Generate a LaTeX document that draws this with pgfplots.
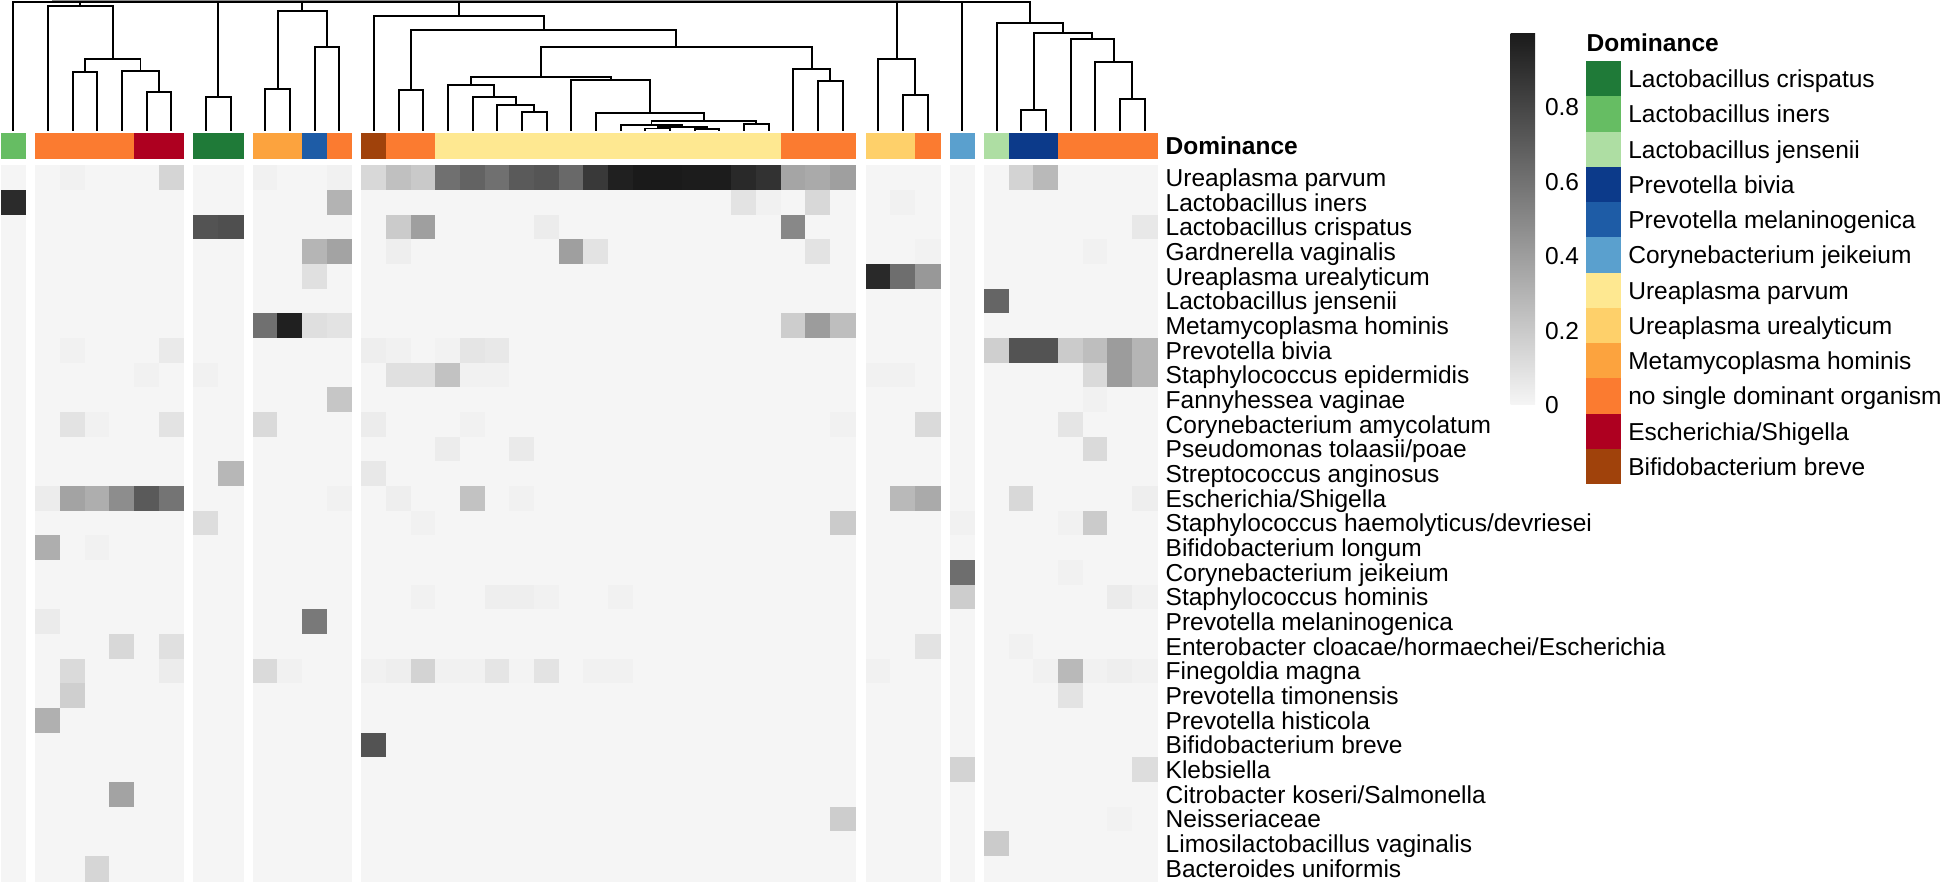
\documentclass[border=0pt]{standalone}
\usepackage{pgfplots}
\pgfplotsset{compat=1.18}
\usepackage{pgfplotstable}
\usepackage{fontspec}
\setmainfont{Liberation Sans}
\definecolor{cLC}{RGB}{31,122,56}
\definecolor{cLI}{RGB}{102,189,99}
\definecolor{cLJ}{RGB}{174,222,163}
\definecolor{cPB}{RGB}{12,58,138}
\definecolor{cPM}{RGB}{30,92,166}
\definecolor{cCJ}{RGB}{90,160,206}
\definecolor{cUP}{RGB}{254,232,145}
\definecolor{cUU}{RGB}{254,208,106}
\definecolor{cMH}{RGB}{252,163,62}
\definecolor{cNS}{RGB}{251,123,48}
\definecolor{cES}{RGB}{174,0,32}
\definecolor{cBB}{RGB}{160,66,11}
\definecolor{hm0}{RGB}{245,245,245}
\definecolor{hm1}{RGB}{27,27,27}
\newcommand{\lf}{\fontsize{9.8}{11.8}\selectfont}

% one line per sample: x centre (px), dominance class, abundance of the 29 taxa
\pgfplotstableread{
x dom v1 v2 v3 v4 v5 v6 v7 v8 v9 v10 v11 v12 v13 v14 v15 v16 v17 v18 v19 v20 v21 v22 v23 v24 v25 v26 v27 v28 v29
13.3 LI 0 0.91 0 0 0  0 0 0 0 0  0 0 0 0 0  0 0 0 0 0  0 0 0 0 0  0 0 0 0
48.0 NS 0 0 0 0 0  0 0 0 0 0  0 0 0 0.04 0  0.32 0 0 0.045 0  0 0 0.31 0 0  0 0 0 0
72.7 NS 0.02 0 0 0 0  0 0 0.02 0 0  0.08 0 0 0.37 0  0 0 0 0 0  0.12 0.17 0 0 0  0 0 0 0
97.4 NS 0 0 0 0 0  0 0 0 0 0  0.02 0 0 0.32 0  0.02 0 0 0 0  0 0 0 0 0  0 0 0 0.14
122.0 NS 0 0 0 0 0  0 0 0 0 0  0 0 0 0.47 0  0 0 0 0 0.13  0 0 0 0 0  0.37 0 0 0
146.7 ES 0 0 0 0 0  0 0 0 0.02 0  0 0 0 0.70 0  0 0 0 0 0  0 0 0 0 0  0 0 0 0
171.4 ES 0.145 0 0 0 0  0 0 0.05 0 0  0.08 0 0 0.58 0  0 0 0 0 0.095  0.04 0 0 0 0  0 0 0 0
206.0 LC 0 0 0.73 0 0  0 0 0 0.02 0  0 0 0 0 0.11  0 0 0 0 0  0 0 0 0 0  0 0 0 0
230.7 LC 0 0 0.75 0 0  0 0 0 0 0  0 0 0.28 0 0  0 0 0 0 0  0 0 0 0 0  0 0 0 0
265.3 MH 0.02 0 0 0 0  0 0.60 0 0 0  0.12 0 0 0 0  0 0 0 0 0  0.12 0 0 0 0  0 0 0 0
290.0 MH 0 0 0 0 0  0 0.96 0 0 0  0 0 0 0 0  0 0 0 0 0  0.02 0 0 0 0  0 0 0 0
314.7 PM 0 0 0 0.29 0.095  0 0.10 0 0 0  0 0 0 0 0  0 0 0 0.56 0  0 0 0 0 0  0 0 0 0
339.3 NS 0.02 0.30 0 0.37 0  0 0.08 0 0 0.21  0 0 0 0.02 0  0 0 0 0 0  0 0 0 0 0  0 0 0 0
374.0 BB 0.13 0 0 0 0  0 0 0.03 0 0  0.04 0 0.06 0 0  0 0 0 0 0  0.02 0 0 0.73 0  0 0 0 0
398.7 NS 0.24 0 0.19 0.03 0  0 0 0.02 0.095 0  0 0 0 0.03 0  0 0 0 0 0  0.03 0 0 0 0  0 0 0 0
423.4 NS 0.20 0 0.39 0 0  0 0 0 0.095 0  0 0 0 0 0.02  0 0 0.02 0 0  0.155 0 0 0 0  0 0 0 0
448.0 UP 0.60 0 0 0 0  0 0 0.015 0.23 0  0 0.04 0 0 0  0 0 0 0 0  0.02 0 0 0 0  0 0 0 0
472.7 UP 0.66 0 0 0 0  0 0 0.07 0.02 0  0.02 0 0 0.23 0  0 0 0 0 0  0.02 0 0 0 0  0 0 0 0
497.4 UP 0.60 0 0 0 0  0 0 0.06 0.02 0  0 0 0 0 0  0 0 0.03 0 0  0.07 0 0 0 0  0 0 0 0
522.0 UP 0.70 0 0 0 0  0 0 0 0 0  0 0.05 0 0.02 0  0 0 0.03 0 0  0.01 0 0 0 0  0 0 0 0
546.7 UP 0.72 0 0.04 0 0  0 0 0 0 0  0 0 0 0 0  0 0 0.02 0 0  0.08 0 0 0 0  0 0 0 0
571.4 UP 0.63 0 0 0.39 0  0 0 0 0 0  0 0 0 0 0  0 0 0 0 0  0 0 0 0 0  0 0 0 0
596.0 UP 0.85 0 0 0.08 0  0 0 0 0 0  0 0 0 0 0  0 0 0 0 0  0.02 0 0 0 0  0 0 0 0
620.7 UP 0.96 0 0 0 0  0 0 0 0 0  0 0 0 0 0  0 0 0.02 0 0  0.02 0 0 0 0  0 0 0 0
645.4 UP 0.99 0 0 0 0  0 0 0 0 0  0 0 0 0 0  0 0 0 0 0  0 0 0 0 0  0 0 0 0
670.0 UP 0.99 0 0 0 0  0 0 0 0 0  0 0 0 0 0  0 0 0 0 0  0 0 0 0 0  0 0 0 0
694.7 UP 0.98 0 0 0 0  0 0 0 0 0  0 0 0 0 0  0 0 0 0 0  0 0 0 0 0  0 0 0 0
719.4 UP 0.98 0 0 0 0  0 0 0 0 0  0 0 0 0 0  0 0 0 0 0  0 0 0 0 0  0 0 0 0
744.0 UP 0.92 0.08 0 0 0  0 0 0 0 0  0 0 0 0 0  0 0 0 0 0  0 0 0 0 0  0 0 0 0
768.7 UP 0.88 0.02 0 0 0  0 0 0 0 0  0 0 0 0 0  0 0 0 0 0  0 0 0 0 0  0 0 0 0
793.4 NS 0.36 0 0.49 0 0  0 0.18 0 0 0  0 0 0 0 0  0 0 0 0 0  0 0 0 0 0  0 0 0 0
818.0 NS 0.34 0.13 0 0.08 0  0 0.40 0 0 0  0 0 0 0 0  0 0 0 0 0  0 0 0 0 0  0 0 0 0
842.7 NS 0.39 0 0 0 0  0 0.25 0 0 0  0.02 0 0 0 0.19  0 0 0 0 0  0 0 0 0 0  0 0.18 0 0
878.3 UU 0 0 0 0 0.92  0 0 0 0.02 0  0 0 0 0 0  0 0 0 0 0  0.02 0 0 0 0  0 0 0 0
903.0 UU 0 0.02 0 0 0.61  0 0 0 0.02 0  0 0 0 0.27 0  0 0 0 0 0  0 0 0 0 0  0 0 0 0
927.7 NS 0 0 0 0.015 0.42  0 0 0 0 0  0.12 0 0 0.34 0  0 0 0 0 0.08  0 0 0 0 0  0 0 0 0
962.3 CJ 0 0 0 0 0  0 0 0 0 0  0 0 0 0 0.02  0 0.61 0.18 0 0  0 0 0 0 0.155  0 0 0 0
996.6 LJ 0 0 0 0 0  0.65 0 0.17 0 0  0 0 0 0 0  0 0 0 0 0  0 0 0 0 0  0 0 0.19 0
1021.3 PB 0.155 0 0 0 0  0 0 0.73 0 0  0 0 0 0.13 0  0 0 0 0 0.02  0 0 0 0 0  0 0 0 0
1046.0 PB 0.27 0 0 0 0  0 0 0.73 0 0  0 0 0 0 0  0 0 0 0 0  0.02 0 0 0 0  0 0 0 0
1070.6 NS 0 0 0 0 0  0 0 0.19 0 0  0.07 0 0 0 0.02  0 0.02 0 0 0  0.27 0.08 0 0 0  0 0 0 0
1095.3 NS 0 0 0 0.02 0  0 0 0.25 0.12 0.02  0 0.12 0 0 0.19  0 0 0 0 0  0.02 0 0 0 0  0 0 0 0
1120.0 NS 0 0 0 0 0  0 0 0.40 0.40 0  0 0 0 0 0  0 0 0.045 0 0  0.03 0 0 0 0  0 0.015 0 0
1144.6 NS 0 0 0.06 0 0  0 0 0.29 0.29 0  0 0 0 0.03 0  0 0 0.02 0 0  0.02 0 0 0 0.11  0 0 0 0
}\data

% dendrogram segments (px), separated by nan rows
\pgfplotstableread{
x y
13.3 130.7
13.3 2.4
1029.75 2.4
1029.75 22.7
nan nan
80.4 2.4
80.4 6
nan nan
218.35 2.4
218.35 97.3
nan nan
302.3 2.4
302.3 10.7
nan nan
458.85 2.4
458.85 16
nan nan
896.8 2.4
896.8 59.3
nan nan
962.3 2.4
962.3 130.7
nan nan
48.0 130.7
48.0 6
112.8 6
112.8 59.3
nan nan
85.05 72.3
85.05 59.3
140.5 59.3
140.5 71.3
nan nan
72.7 130.7
72.7 72.3
97.4 72.3
97.4 130.7
nan nan
122.0 130.7
122.0 71.3
159.05 71.3
159.05 92.3
nan nan
146.7 130.7
146.7 92.3
171.4 92.3
171.4 130.7
nan nan
206.0 130.7
206.0 97.3
230.7 97.3
230.7 130.7
nan nan
277.65 88.7
277.65 10.7
327.0 10.7
327.0 47.3
nan nan
265.3 130.7
265.3 88.7
290.0 88.7
290.0 130.7
nan nan
314.7 130.7
314.7 47.3
339.3 47.3
339.3 130.7
nan nan
374.0 130.7
374.0 16
543.7 16
543.7 30
nan nan
411.05 90
411.05 30
676.4 30
676.4 46.7
nan nan
398.7 130.7
398.7 90
423.4 90
423.4 130.7
nan nan
540.9 77.3
540.9 46.7
811.9 46.7
811.9 69
nan nan
471.15 85
471.15 77.3
610.7 77.3
610.7 80
nan nan
448.0 130.7
448.0 85
494.3 85
494.3 96.7
nan nan
472.7 130.7
472.7 96.7
515.9 96.7
515.9 105.3
nan nan
497.4 130.7
497.4 105.3
534.35 105.3
534.35 111.7
nan nan
522.0 130.7
522.0 111.7
546.7 111.7
546.7 130.7
nan nan
571.4 130.7
571.4 80
649.98 80
649.98 113.3
nan nan
596.0 130.7
596.0 113.3
703.95 113.3
703.95 120.7
nan nan
651.55 125
651.55 120.7
756.35 120.7
756.35 124.3
nan nan
620.7 130.7
620.7 125
682.4 125
682.4 127.3
nan nan
657.7 128.5
657.7 127.3
707.05 127.3
707.05 129
nan nan
645.4 130.7
645.4 128.5
670.0 128.5
670.0 130.7
nan nan
694.7 130.7
694.7 129
719.4 129
719.4 130.7
nan nan
744.0 130.7
744.0 124.3
768.7 124.3
768.7 130.7
nan nan
793.4 130.7
793.4 69
830.35 69
830.35 81
nan nan
818.0 130.7
818.0 81
842.7 81
842.7 130.7
nan nan
878.3 130.7
878.3 59.3
915.35 59.3
915.35 95.3
nan nan
903.0 130.7
903.0 95.3
927.7 95.3
927.7 130.7
nan nan
996.6 130.7
996.6 22.7
1062.9 22.7
1062.9 33.3
nan nan
1033.65 110.3
1033.65 33.3
1092.2 33.3
1092.2 39.3
nan nan
1021.3 130.7
1021.3 110.3
1046.0 110.3
1046.0 130.7
nan nan
1070.6 130.7
1070.6 39.3
1113.8 39.3
1113.8 62.3
nan nan
1095.3 130.7
1095.3 62.3
1132.3 62.3
1132.3 99
nan nan
1120.0 130.7
1120.0 99
1144.6 99
1144.6 130.7
}\dendro

% faint root line at the very top
\pgfplotstableread{
x y
52 0.6
940 0.6
}\dendrotop

\newcommand{\rowlab}[2]{\node[anchor=base west] at (axis cs:1165.7,#1) {#2};}
\newcommand{\legitem}[4]{\fill[#4] (axis cs:1585.7,#1) rectangle (axis cs:1620.7,#2);
  \node[anchor=base west] at (axis cs:1628.3,#2-8.77) {#3};}

\begin{document}
\begin{tikzpicture}[font=\lf, every node/.append style={inner sep=0pt, outer sep=0pt}]
\begin{axis}[x=0.4pt, y=0.4pt, y dir=reverse,
  xmin=0, xmax=1943, ymin=0, ymax=884,
  hide axis, clip=false,
  colormap={hm}{rgb255=(245,245,245) rgb255=(25,25,25)},
  point meta min=0, point meta max=1]
\coordinate (BL) at (axis cs:0,884);
\coordinate (TR) at (axis cs:1943,0);

% heatmap
\pgfplotsinvokeforeach{1,...,29}{
  \addplot[scatter, only marks, mark=square*, mark size=4.934pt, line width=0.25pt,
    point meta=explicit,
    scatter/use mapped color={draw=mapped color, fill=mapped color}]
    table[x=x, y expr={153.365+24.67*#1}, meta=v#1] {\data};
}

% dominance annotation row
\addplot[scatter, only marks, mark=square*, mark size=4.934pt, line width=0.25pt,
  scatter src=explicit symbolic,
  scatter/classes={
    LC={mark=square*,cLC}, LI={mark=square*,cLI}, LJ={mark=square*,cLJ},
    PB={mark=square*,cPB}, PM={mark=square*,cPM}, CJ={mark=square*,cCJ},
    UP={mark=square*,cUP}, UU={mark=square*,cUU}, MH={mark=square*,cMH},
    NS={mark=square*,cNS}, ES={mark=square*,cES}, BB={mark=square*,cBB}}]
  table[x=x, y expr=145.65, meta=dom] {\data};

% dendrogram
\addplot[black, line width=0.75pt, unbounded coords=jump, mark=none] table[x=x, y=y] {\dendro};
\addplot[black!45, line width=0.45pt, mark=none] table[x=x, y=y] {\dendrotop};

% row labels
\node[anchor=base west, font=\lf\bfseries] at (axis cs:1165.7,154.2) {Dominance};
\rowlab{186.5}{Ureaplasma parvum}
\rowlab{211.2}{Lactobacillus iners}
\rowlab{235.9}{Lactobacillus crispatus}
\rowlab{260.5}{Gardnerella vaginalis}
\rowlab{285.2}{Ureaplasma urealyticum}
\rowlab{309.9}{Lactobacillus jensenii}
\rowlab{334.6}{Metamycoplasma hominis}
\rowlab{359.2}{Prevotella bivia}
\rowlab{383.9}{Staphylococcus epidermidis}
\rowlab{408.6}{Fannyhessea vaginae}
\rowlab{433.2}{Corynebacterium amycolatum}
\rowlab{457.9}{Pseudomonas tolaasii/poae}
\rowlab{482.6}{Streptococcus anginosus}
\rowlab{507.3}{Escherichia/Shigella}
\rowlab{531.9}{Staphylococcus haemolyticus/devriesei}
\rowlab{556.6}{Bifidobacterium longum}
\rowlab{581.3}{Corynebacterium jeikeium}
\rowlab{606.0}{Staphylococcus hominis}
\rowlab{630.6}{Prevotella melaninogenica}
\rowlab{655.3}{Enterobacter cloacae/hormaechei/Escherichia}
\rowlab{680.0}{Finegoldia magna}
\rowlab{704.6}{Prevotella timonensis}
\rowlab{729.3}{Prevotella histicola}
\rowlab{754.0}{Bifidobacterium breve}
\rowlab{778.6}{Klebsiella}
\rowlab{803.3}{Citrobacter koseri/Salmonella}
\rowlab{828.0}{Neisseriaceae}
\rowlab{852.6}{Limosilactobacillus vaginalis}
\rowlab{877.3}{Bacteroides uniformis}

% colour bar
\shade[bottom color=hm0, top color=hm1] (axis cs:1510.7,404.3) rectangle (axis cs:1535,34);
\node[anchor=base west] at (axis cs:1545,115.2) {0.8};
\node[anchor=base west] at (axis cs:1545,190.2) {0.6};
\node[anchor=base west] at (axis cs:1545,264.5) {0.4};
\node[anchor=base west] at (axis cs:1545,339.2) {0.2};
\node[anchor=base west] at (axis cs:1545,413.5) {0};

% dominance legend
\node[anchor=base west, font=\lf\bfseries] at (axis cs:1586.7,51.7) {Dominance};
\legitem{61}{96.27}{Lactobacillus crispatus}{cLC}
\legitem{96.27}{131.54}{Lactobacillus iners}{cLI}
\legitem{131.54}{166.81}{Lactobacillus jensenii}{cLJ}
\legitem{166.81}{202.08}{Prevotella bivia}{cPB}
\legitem{202.08}{237.35}{Prevotella melaninogenica}{cPM}
\legitem{237.35}{272.62}{Corynebacterium jeikeium}{cCJ}
\legitem{272.62}{307.89}{Ureaplasma parvum}{cUP}
\legitem{307.89}{343.16}{Ureaplasma urealyticum}{cUU}
\legitem{343.16}{378.43}{Metamycoplasma hominis}{cMH}
\legitem{378.43}{413.7}{no single dominant organism}{cNS}
\legitem{413.7}{448.97}{Escherichia/Shigella}{cES}
\legitem{448.97}{484.24}{Bifidobacterium breve}{cBB}
\end{axis}
\pgfresetboundingbox
\path[use as bounding box] (BL) rectangle (TR);
\end{tikzpicture}
\end{document}
